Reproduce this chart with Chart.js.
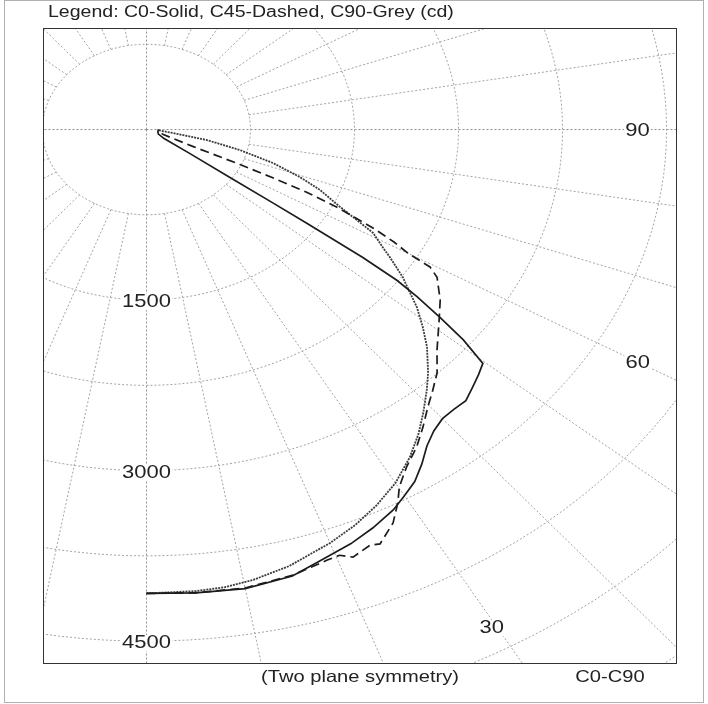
<!DOCTYPE html>
<html>
<head>
<meta charset="utf-8">
<script src="https://cdn.jsdelivr.net/npm/chart.js@4.4.1/dist/chart.umd.min.js"></script>
<style>
  html, body { margin: 0; padding: 0; background: #fff; }
  #wrap { position: relative; width: 708px; height: 704px; }
</style>
</head>
<body>
<div id="wrap"><canvas id="polar"></canvas></div>
<script>
// luminous intensity (cd), angle measured from nadir in degrees
const c0Angles = [0, 5, 10, 15, 18, 22, 25, 28, 30, 32, 34, 36, 38, 40, 42, 44, 46, 48, 49.7, 51, 52, 53, 53.7, 54.2, 54.5, 54.7, 55, 56, 58, 65, 75, 85, 90];
const c0Values = [4080, 4090, 4100, 4065, 4000, 3930, 3865, 3790, 3720, 3650, 3550, 3440, 3365, 3320, 3312, 3315, 3267, 3222, 3180, 2940, 2690, 2445, 2240, 1920, 1420, 1120, 750, 375, 150, 95, 85, 85, 85];

const c45Angles = [0, 5, 10, 15, 19, 20.4, 21.6, 23.8, 24.8, 27.2, 28.9, 30.1, 31.2, 32.3, 34.9, 37.3, 39.7, 42, 44.4, 47.2, 51.1, 54.7, 58.2, 59.4, 60, 61, 62, 63.5, 64.5, 65, 65.5, 66, 70, 80, 90];
const c45Values = [4080, 4090, 4095, 4060, 4005, 3995, 4045, 3995, 4015, 3890, 3750, 3635, 3570, 3510, 3405, 3290, 3175, 3085, 2995, 2855, 2710, 2595, 2465, 2375, 2180, 2040, 1860, 1550, 1275, 1000, 740, 370, 130, 90, 85];

const c90Angles = [0, 5, 8, 11, 15, 20, 23.4, 26.6, 30, 33.4, 36.2, 38.7, 41.4, 43.5, 46.6, 48.9, 51.3, 52.9, 54.9, 57.4, 58.6, 60.9, 62.3, 64, 67, 69.3, 72.1, 75, 78, 80.8, 85, 90];
const c90Values = [4080, 4075, 4065, 4035, 3975, 3870, 3790, 3700, 3590, 3450, 3320, 3192, 3056, 2950, 2784, 2644, 2498, 2383, 2259, 2083, 2000, 1870, 1714, 1553, 1359, 1183, 959, 698, 446, 194, 95, 85];

const ringValues = [750, 1500, 2250, 3000, 3750, 4500, 5250, 6000];
const spokeAngles = [0, 10, 20, 30, 40, 50, 60, 70, 80, 90, 100, 110, 120, 130, 140, 150, 160, 170,
                     180, 190, 200, 210, 220, 230, 240, 250, 260, 270, 280, 290, 300, 310, 320, 330, 340, 350];
const tickValues = [1500, 3000, 4500];
const tickLabels = ['1500', '3000', '4500'];
const angleTicks = [30, 60, 90];
const angleLabels = ['30', '60', '90'];

const STRETCH = 1.22; // the original drawing is wider than it is tall

function toXY(deg, r) {
  const a = deg * Math.PI / 180;
  return { x: r * Math.sin(a), y: -r * Math.cos(a) };
}

function curve(angles, values) {
  return angles.map((a, i) => toXY(a, values[i]));
}

const gridStyle = {
  borderColor: '#a3a3a3', borderWidth: 1, borderDash: [2, 2],
  pointRadius: 0, showLine: true, fill: false, clip: 0
};

const datasets = [
  { label: 'C0', data: curve(c0Angles, c0Values), borderColor: '#1c1c1c', borderWidth: 1.7,
    pointRadius: 0, showLine: true, fill: false, clip: 0 },
  { label: 'C45', data: curve(c45Angles, c45Values), borderColor: '#1c1c1c', borderWidth: 1.7,
    borderDash: [9, 5], pointRadius: 0, showLine: true, fill: false, clip: 0 },
  { label: 'C90', data: curve(c90Angles, c90Values), borderColor: '#3c3c3c', borderWidth: 1.8,
    borderDash: [2, 1], pointRadius: 0, showLine: true, fill: false, clip: 0 }
];

ringValues.forEach(r => {
  const pts = [];
  for (let a = 0; a <= 360; a += 2) pts.push(toXY(a, r));
  datasets.push(Object.assign({ label: 'ring' + r, data: pts }, gridStyle));
});

spokeAngles.forEach(a => {
  const start = (a % 90 === 0) ? 0 : ringValues[0];
  datasets.push(Object.assign({ label: 'spoke' + a, data: [toXY(a, start), toXY(a, 7000)] }, gridStyle,
    a % 90 === 0 ? { borderColor: '#8e8e8e' } : {}));
});

function stretchedText(ctx, txt, px, py, size, align, bg) {
  ctx.save();
  ctx.translate(px, py);
  ctx.scale(STRETCH, 1);
  ctx.font = size + 'px "Liberation Sans", Arial, sans-serif';
  ctx.textAlign = align;
  ctx.textBaseline = 'middle';
  if (bg) {
    const w = ctx.measureText(txt).width + 2;
    ctx.fillStyle = '#fff';
    ctx.fillRect(-w / 2, -size * 0.45, w, size * 0.9);
  }
  ctx.fillStyle = '#222';
  ctx.fillText(txt, 0, 0);
  ctx.restore();
}

const decor = {
  id: 'decor',
  afterDatasetsDraw(chart) {
    const { ctx, chartArea: ca, scales: { x, y } } = chart;
    // intensity ticks on the nadir axis
    tickValues.forEach((v, i) => {
      const p = toXY(0, v);
      stretchedText(ctx, tickLabels[i], x.getPixelForValue(p.x), y.getPixelForValue(p.y) + 2, 18, 'center', true);
    });
    // angle ticks placed just inside the frame along their spokes
    const labelR = { 30: 4980, 60: 4090, 90: 3540 };
    angleTicks.forEach((a, i) => {
      const p = toXY(a, labelR[a]);
      stretchedText(ctx, angleLabels[i], x.getPixelForValue(p.x), y.getPixelForValue(p.y) + (a === 30 ? 8 : 1), 18, 'center', true);
    });
    // frame
    ctx.save();
    ctx.strokeStyle = '#333';
    ctx.lineWidth = 1;
    ctx.strokeRect(ca.left + 0.5, ca.top + 0.5, ca.right - ca.left, ca.bottom - ca.top);
    ctx.strokeStyle = '#b0b0b0';
    ctx.strokeRect(4.5, 0.5, 699, 702);
    ctx.restore();
    stretchedText(ctx, 'Legend: C0-Solid, C45-Dashed, C90-Grey (cd)', 48, 13, 16, 'left', false);
    stretchedText(ctx, '(Two plane symmetry)', 360, 677, 16.5, 'center', false);
    stretchedText(ctx, 'C0-C90', 610, 677, 16.5, 'center', false);
  }
};

new Chart(document.getElementById('polar'), {
  type: 'scatter',
  data: { datasets: datasets },
  options: {
    responsive: true,
    maintainAspectRatio: false,
    animation: false,
    layout: { padding: { left: 43, top: 28, right: 32, bottom: 41 } },
    scales: {
      x: { type: 'linear', min: -746, max: 3818, display: false },
      y: { type: 'linear', min: -4692, max: 893, display: false }
    },
    plugins: {
      legend: { display: false },
      tooltip: { enabled: false }
    }
  },
  plugins: [decor]
});
</script>
</body>
</html>
